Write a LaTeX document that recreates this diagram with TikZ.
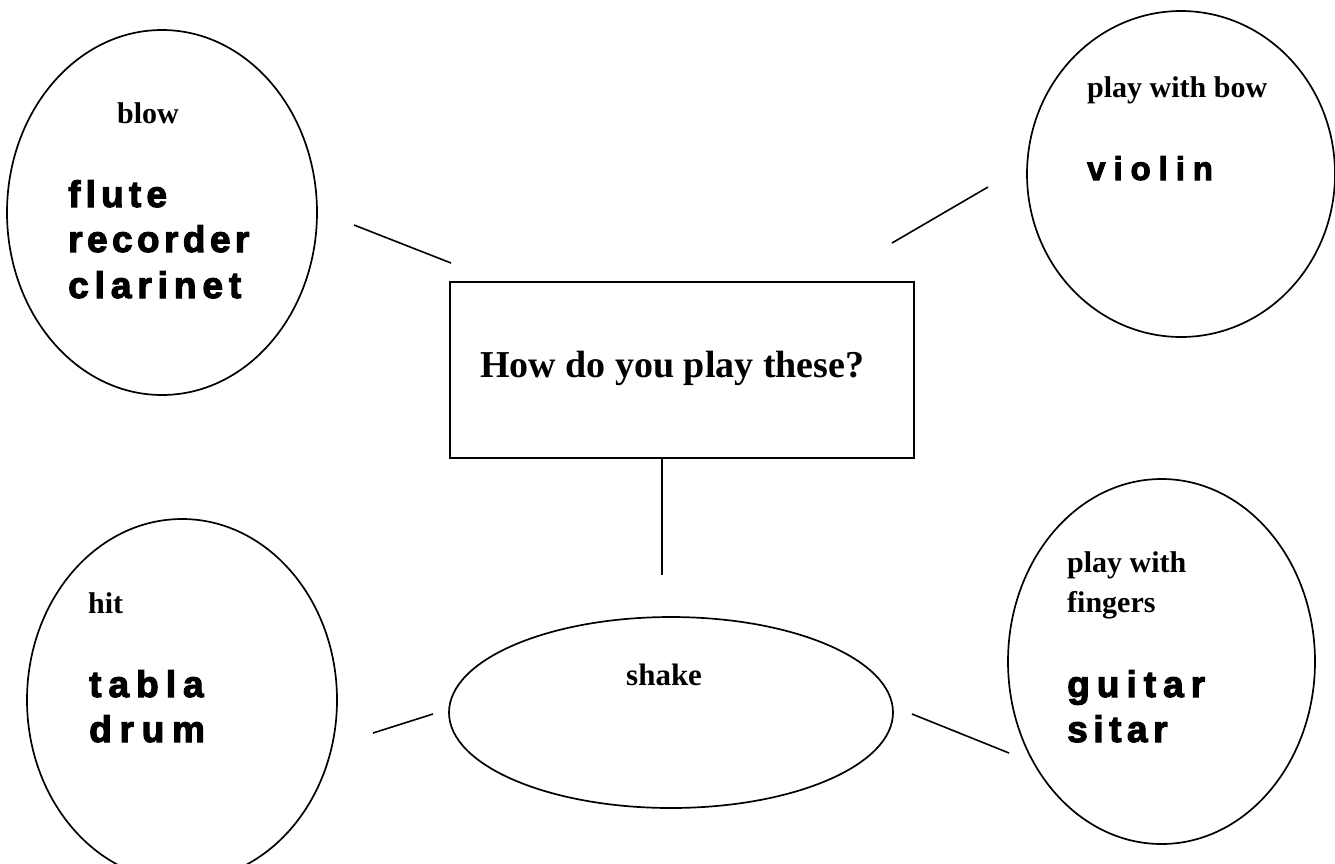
\documentclass[tikz,border=0pt]{standalone}
\usepackage{fontspec}
\setmainfont{Liberation Serif}
\newfontfamily\instfont{Liberation Sans Bold}[FakeBold=3]
\usetikzlibrary{shapes.geometric}
\newcommand\instword[2]{{\addfontfeatures{LetterSpace=#1}#2}}
\tikzset{
  shapeline/.style={draw=black, line width=1.7pt},
  oval/.style={shapeline, ellipse, inner sep=0pt, fill=none},
  qbox/.style={shapeline, rectangle, inner sep=0pt},
  link/.style={draw=black, line width=1.6pt},
  lab/.style={anchor=base west, inner sep=0pt, font=\fontsize{30}{32}\selectfont\bfseries},
  inst/.style={anchor=base west, inner sep=0pt, font=\instfont\fontsize{37}{40}\selectfont},
  big/.style={anchor=base west, inner sep=0pt, font=\fontsize{38}{42}\selectfont\bfseries}
}
\begin{document}
\begin{tikzpicture}[x=1pt,y=-1pt]
\fill[white] (0,0) rectangle (1335,863);
\clip (0,0) rectangle (1335,863);
% shapes
\node[oval, minimum width=310pt, minimum height=365pt] (blowov) at (162,212.5) {};
\node[oval, minimum width=308pt, minimum height=326pt] (bowov) at (1181,174) {};
\node[oval, minimum width=310pt, minimum height=362pt] (hitov) at (182,700) {};
\node[oval, minimum width=307pt, minimum height=365pt] (fingov) at (1161.5,661.5) {};
\node[oval, minimum width=444pt, minimum height=191pt] (shakeov) at (671,712.5) {};
\node[qbox, minimum width=464pt, minimum height=176pt] (qb) at (682,370) {};
% texts
\node[lab] (tblow) at (117,123) {blow};
\node[inst] (tflute) at (68,207) {\instword{14}{flute}};
\node[inst] (trec) at (68,252) {\instword{12}{recorder}};
\node[inst] (tclar) at (68,298) {\instword{16}{clarinet}};
\node[lab] (tbow) at (1087,97) {play with bow};
\node[inst, font=\instfont\fontsize{33}{36}\selectfont] (tviol) at (1087,180) {\instword{24}{violin}};
\node[big] (tq) at (480,377) {How do you play these?};
\node[lab] (thit) at (88,613) {hit};
\node[inst] (ttabla) at (89,697) {\instword{19}{tabla}};
\node[inst] (tdrum) at (89,742) {\instword{21}{drum}};
\node[lab] (tplay) at (1067,572) {play with};
\node[lab] (tfing) at (1067,612) {fingers};
\node[inst] (tguit) at (1067,697) {\instword{19}{guitar}};
\node[inst] (tsitar) at (1067,742) {\instword{15}{sitar}};
\node[lab, font=\fontsize{31}{33}\selectfont\bfseries] (tshake) at (626,685) {shake};
% connector ends
\coordinate (c1a) at (354,225);
\coordinate (c1b) at (451,263);
\coordinate (c2a) at (892,243);
\coordinate (c2b) at (988,187);
\coordinate (c3a) at (662,458);
\coordinate (c3b) at (662,575);
\coordinate (c4a) at (373,733);
\coordinate (c4b) at (433,714);
\coordinate (c5a) at (912,714);
\coordinate (c5b) at (1009,753);
\draw[link] (c1a) -- (c1b);
\draw[link] (c2a) -- (c2b);
\draw[link] (c3a) -- (c3b);
\draw[link] (c4a) -- (c4b);
\draw[link] (c5a) -- (c5b);
\end{tikzpicture}
\end{document}
